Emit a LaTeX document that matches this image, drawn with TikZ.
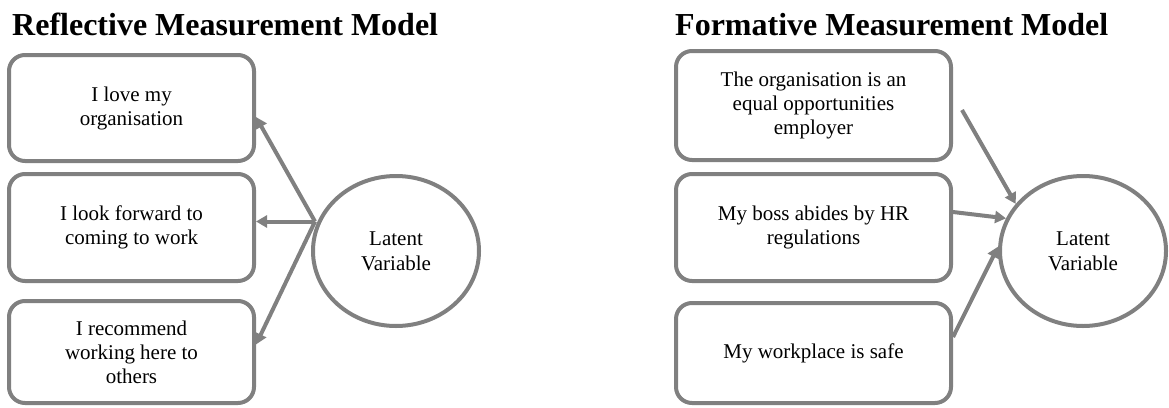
\documentclass[tikz,border=0pt]{standalone}
\usepackage{fontspec}
\setmainfont{Liberation Serif}
\usetikzlibrary{arrows.meta,shapes.geometric}
\definecolor{edgegray}{RGB}{128,128,128}
\begin{document}
\begin{tikzpicture}[x=1pt,y=-1pt,
  item/.style={draw=edgegray, line width=4pt, rounded corners=16pt, align=center,
    font=\fontsize{21}{24}\selectfont, inner sep=0pt},
  latent/.style={draw=edgegray, line width=4pt, ellipse, minimum width=166pt,
    minimum height=150pt, inner sep=0pt, align=center, font=\fontsize{21}{25}\selectfont},
  link/.style={draw=edgegray, line width=4pt, -{Triangle[length=11pt,width=12pt]}},
  title/.style={anchor=base west, font=\fontsize{32}{37}\selectfont\bfseries, inner sep=0pt}
]
\useasboundingbox (0,0) rectangle (1169,407);

% Reflective model
\node[title] (rtitle) at (12,35) {Reflective Measurement Model};
\node[item, minimum width=245pt, minimum height=106pt] (r1) at (131.5,108) {I love my\\organisation};
\node[item, minimum width=245pt, minimum height=107pt] (r2) at (131.5,227.5) {I look forward to\\coming to work};
\node[item, minimum width=245pt, minimum height=102pt] (r3) at (131.5,352) {I recommend\\working here to\\others};
\node[latent] (rl) at (396,251) {Latent\\Variable};

% the three reflective paths leave the latent variable from one point
\coordinate (hub) at (315,221.5);
\draw[link] (hub) -- ([yshift=-9pt]r1.east);
\draw[link] (hub) -- ([yshift=6pt]r2.east);
\draw[link] (hub) -- ([yshift=7.5pt]r3.east);

% Formative model
\node[title] (ftitle) at (675,35) {Formative Measurement Model};
\node[item, minimum width=275pt, minimum height=109pt] (f1) at (813.5,105.5) {The organisation is an\\equal opportunities\\employer};
\node[item, minimum width=275pt, minimum height=107pt] (f2) at (813.5,227.5) {My boss abides by HR\\regulations};
\node[item, minimum width=275pt, minimum height=100pt] (f3) at (813.5,353) {My workplace is safe};
\node[latent] (fl) at (1083,251) {Latent\\Variable};

\coordinate (f1tail) at (962,110);
\draw[link] (f1tail) -- (fl.145);
\draw[link] ([yshift=15.5pt]f2.east) -- (fl.157);
\draw[link] ([yshift=16pt]f3.east) -- (fl.177);
\end{tikzpicture}
\end{document}
